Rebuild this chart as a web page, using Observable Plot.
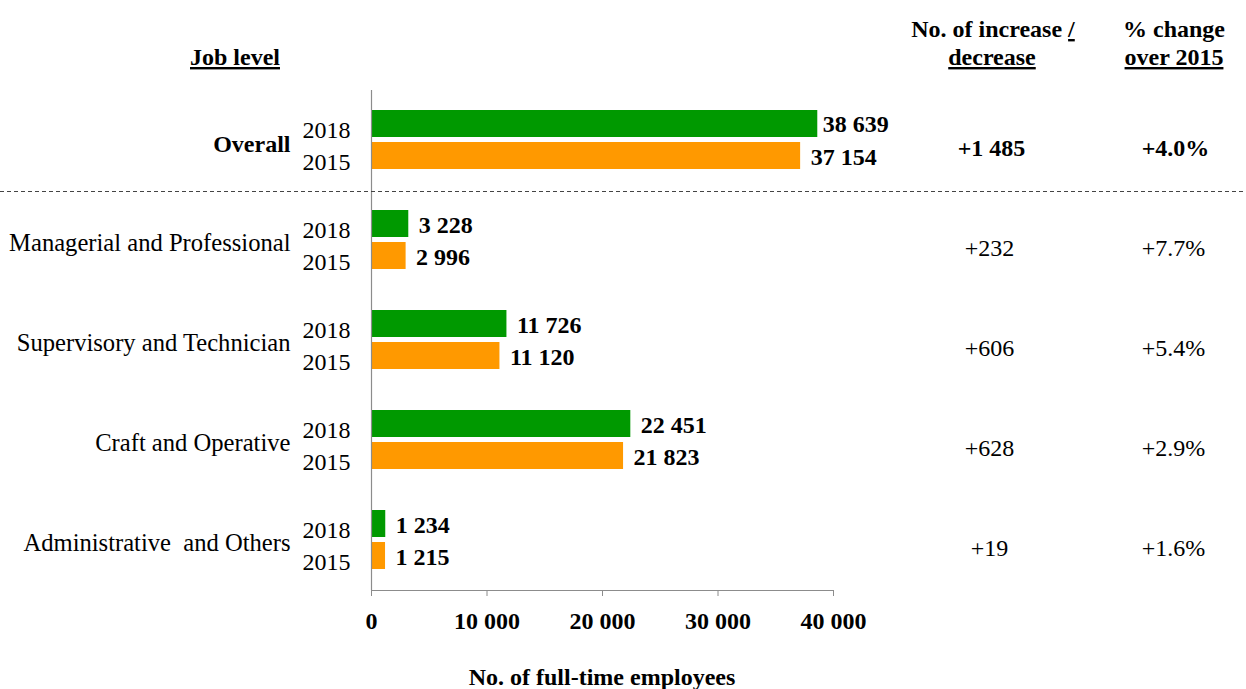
<!DOCTYPE html>
<html><head><meta charset="utf-8">
<script src="https://cdn.jsdelivr.net/npm/d3@7"></script>
<script src="https://cdn.jsdelivr.net/npm/@observablehq/plot@0.6"></script>
<style>body{margin:0;background:#fff}</style>
</head><body><div id="chart"></div>
<script>
const categories = ["Overall","Managerial and Professional","Supervisory and Technician","Craft and Operative","Administrative\u00a0 and Others"];
const years = ["2018","2015"];
const values2018 = [38639,3228,11726,22451,1234];
const values2015 = [37154,2996,11120,21823,1215];
const changes = [1485,232,606,628,19];
const pctChanges = [4.0,7.7,5.4,2.9,1.6];
const xTicks = [0,10000,20000,30000,40000];
const colors = ["#009900","#ff9900"];

const FONT = '"Liberation Serif","Times New Roman",serif';
const fmt = v => d3.format(",")(v).replace(/,/g," ");

const rows = categories.flatMap((c,i)=>[
  {cat:c, year:"2018", value: values2018[i], first: i===0},
  {cat:c, year:"2015", value: values2015[i], first: i===0}
]);
const cats = categories.map((c,i)=>({cat:c, change:"+"+fmt(changes[i]), pct:"+"+pctChanges[i].toFixed(1)+"%", bold: i===0}));

const W = 1246, H = 689, mT = 90, mB = 99, mL = 371, mR = 413;

const plot = Plot.plot({
  width: W, height: H,
  marginTop: mT, marginBottom: mB, marginLeft: mL, marginRight: mR,
  style: {fontFamily: FONT, fontSize: "24px", color: "black", background: "white", overflow: "visible"},
  x: {domain: [0,40000]},
  y: {domain: years, paddingInner: 0.156, paddingOuter: 0.64},
  fy: {domain: categories, padding: 0, axis: null},
  color: {domain: years, range: colors},
  marks: [
    Plot.barX(rows, {x: "value", y: "year", fy: "cat", fill: "year"}),
    Plot.ruleX([0], {stroke: "#8c8c8c", strokeWidth: 1.2}),
    Plot.axisY({tickSize: 0, tickPadding: 21, fontSize: 24, dy: 6, label: null}),
    Plot.axisX({ticks: xTicks, tickFormat: fmt, tickSize: 6, tickPadding: 15, fontSize: 24, fontWeight: "bold", stroke: "#8c8c8c", fill: "black", label: null}),
    Plot.text(rows.filter(d => d.first && d.year === "2018"), {x: "value", y: "year", fy: "cat", text: d => fmt(d.value), textAnchor: "start", dx: 5, dy: 0, fontWeight: "bold", fontSize: 24}),
    Plot.text(rows.filter(d => !(d.first && d.year === "2018")), {x: "value", y: "year", fy: "cat", text: d => fmt(d.value), textAnchor: "start", dx: 10, dy: 1, fontWeight: "bold", fontSize: 24}),
    Plot.text(cats.filter(d=>d.bold), {fy: "cat", frameAnchor: "left", dx: -81, dy: 4, textAnchor: "end", text: "cat", fontWeight: "bold", fontSize: 24}),
    Plot.text(cats.filter(d=>!d.bold), {fy: "cat", frameAnchor: "left", dx: -81, dy: 3, textAnchor: "end", text: "cat", fontSize: 24.6}),
    Plot.text(cats.filter(d=>d.bold), {fy: "cat", frameAnchor: "right", dx: 158, dy: 8, textAnchor: "middle", text: "change", fontWeight: "bold", fontSize: 24}),
    Plot.text(cats.filter(d=>!d.bold), {fy: "cat", frameAnchor: "right", dx: 156, dy: 8, textAnchor: "middle", text: "change", fontSize: 24}),
    Plot.text(cats.filter(d=>d.bold), {fy: "cat", frameAnchor: "right", dx: 342, dy: 8, textAnchor: "middle", text: "pct", fontWeight: "bold", fontSize: 24}),
    Plot.text(cats.filter(d=>!d.bold), {fy: "cat", frameAnchor: "right", dx: 340, dy: 8, textAnchor: "middle", text: "pct", fontSize: 24})
  ]
});

const svg = d3.select(plot);
const xs = plot.scale("x");
const fys = plot.scale("fy");
const x0 = xs.apply(0), x1 = xs.apply(40000);

// bottom axis line
svg.append("line").attr("x1", x0).attr("x2", x1).attr("y1", H - mB + 0.5).attr("y2", H - mB + 0.5)
  .attr("stroke", "#8c8c8c").attr("stroke-width", 1.2);

// dashed separator between Overall and the rest
const ySep = fys.apply(categories[1]) + 1.5;
svg.append("line").attr("x1", 0).attr("x2", W).attr("y1", ySep).attr("y2", ySep)
  .attr("stroke", "#444").attr("stroke-dasharray", "4,3").attr("stroke-width", 1);

function txt(x, y, anchor) {
  return svg.append("text").attr("x", x).attr("y", y).attr("text-anchor", anchor)
    .attr("font-family", FONT).attr("font-size", 24).attr("font-weight", "bold").attr("fill", "black");
}
// headers
txt(235, 65, "middle").attr("text-decoration", "underline").text("Job level");
const h1 = txt(993, 37, "middle");
h1.append("tspan").text("No. of increase ");
h1.append("tspan").attr("text-decoration", "underline").text("/");
txt(992, 65, "middle").attr("text-decoration", "underline").text("decrease");
txt(1174, 37, "middle").text("% change");
txt(1174, 65, "middle").attr("text-decoration", "underline").text("over 2015");

// x axis title
txt((x0 + x1) / 2, 685, "middle").text("No. of full-time employees");

document.getElementById("chart").appendChild(plot);
</script>
</body></html>
